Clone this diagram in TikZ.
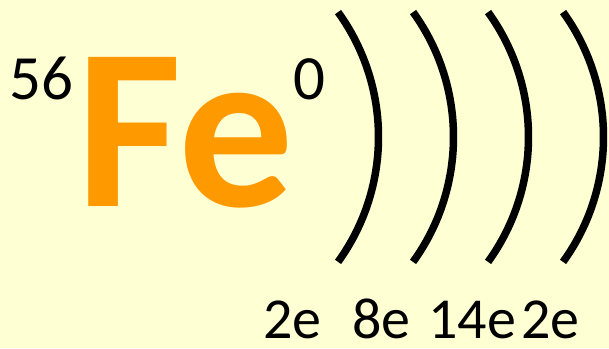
\documentclass[tikz,border=0pt]{standalone}
\usepackage{fontspec}
\setmainfont{Carlito}
\definecolor{bg}{RGB}{255,255,212}
\definecolor{feorange}{RGB}{255,153,0}
\tikzset{
  lbl/.style={anchor=base west, inner sep=0pt, text=black},
  shelllbl/.style={lbl, font=\fontsize{58}{58}\selectfont},
  shell/.style={line width=7.5pt, black}
}
\begin{document}
\begin{tikzpicture}[x=1pt,y=1pt]
\fill[bg] (0,0) rectangle (609,348);
\useasboundingbox (0,0) rectangle (609,348);
\node[lbl, font=\fontsize{63}{63}\selectfont] (mass) at (9,248) {56};
\node[lbl, font=\fontsize{230}{230}\selectfont\bfseries, text=feorange] (fe) at (76,142) {Fe};
\node[lbl, font=\fontsize{63}{63}\selectfont] (charge) at (293,248) {0};
\foreach \i in {0,1,2,3} {
  \draw[shell] ({378.5+75*\i-213},211) ++(-35.9:213) arc[start angle=-35.9, end angle=35.9, radius=213];
}
\node[shelllbl] (s1) at (263,10) {2e};
\node[shelllbl] (s2) at (352,10) {8e};
\node[shelllbl] (s3) at (428,10) {14e};
\node[shelllbl] (s4) at (521,10) {2e};
\end{tikzpicture}
\end{document}
